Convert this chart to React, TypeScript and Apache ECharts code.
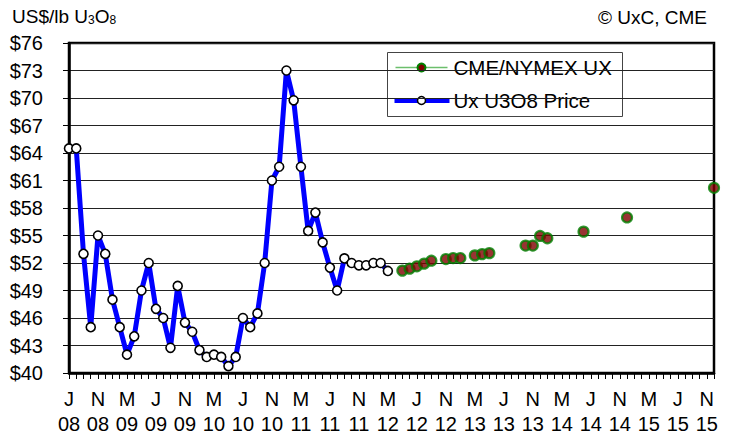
import React, { useEffect, useRef } from "react";
import * as echarts from "echarts";

// Month index 0 = Jul 2008
const monthLetters = ["J", "F", "M", "A", "M", "J", "J", "A", "S", "O", "N", "D"];
const startMonth = 6; // July
const startYear = 2008;
const xMax = 89; // Dec 2015
const labelStep = 4;

const uxIdx = [
  0, 1, 2, 3, 4, 5, 6, 7, 8, 9, 10, 11, 12, 13, 14, 15, 16, 17, 18, 19, 20, 21, 22,
  23, 24, 25, 26, 27, 28, 29, 30, 31, 32, 33, 34, 35, 36, 37, 38, 39, 40, 41, 42, 43, 44,
];
const uxPrice = [
  64.5, 64.5, 53, 45, 55, 53, 48, 45, 42, 44, 49, 52, 47, 46, 42.75, 49.5, 45.5, 44.5,
  42.5, 41.75, 42, 41.75, 40.75, 41.75, 46, 45, 46.5, 52, 61, 62.5, 73, 69.75, 62.5,
  55.5, 57.5, 54.25, 51.5, 49, 52.5, 52, 51.75, 51.75, 52, 52, 51.13,
];

const cmeIdx = [46, 47, 48, 49, 50, 52, 53, 54, 56, 57, 58, 63, 64, 65, 66, 71, 77, 89];
const cmePrice = [
  51.17, 51.38, 51.64, 51.93, 52.25, 52.43, 52.54, 52.54, 52.83, 52.97, 53.08, 53.9,
  53.9, 54.95, 54.7, 55.42, 56.97, 60.2,
];

const yMin = 40;
const yMax = 76;
const yStep = 3;

const FONT = "'Liberation Sans', Arial, sans-serif";

export default function App() {
  const ref = useRef<HTMLDivElement>(null);

  useEffect(() => {
    if (!ref.current) return;
    const chart = echarts.init(ref.current, undefined, { renderer: "svg" });

    const uxData = uxIdx.map((x, i) => [x, uxPrice[i]]);
    const cmeData = cmeIdx.map((x, i) => [x, cmePrice[i]]);

    chart.setOption({
      animation: false,
      backgroundColor: "#ffffff",
      textStyle: { fontFamily: FONT },
      grid: {
        left: 69,
        right: 19,
        top: 43,
        bottom: 60,
        show: true,
        borderColor: "#000",
        borderWidth: 2.5,
        backgroundColor: "transparent",
      },
      xAxis: {
        type: "value",
        min: 0,
        max: xMax,
        interval: 1,
        axisLine: { show: true, lineStyle: { color: "#000", width: 2.5 } },
        axisTick: { show: true, length: 6, lineStyle: { color: "#000", width: 1 } },
        splitLine: { show: false },
        axisLabel: {
          show: true,
          margin: 13,
          color: "#000",
          fontSize: 20,
          lineHeight: 25,
          fontFamily: FONT,
          showMinLabel: true,
          showMaxLabel: true,
          formatter: (v: number) => {
            const idx = Math.round(v);
            if (idx % labelStep !== 0) return "";
            const m = (startMonth + idx) % 12;
            const y = startYear + Math.floor((startMonth + idx) / 12);
            return monthLetters[m] + "\n" + String(y % 100).padStart(2, "0");
          },
        },
      },
      yAxis: {
        type: "value",
        min: yMin,
        max: yMax,
        interval: yStep,
        axisLine: { show: true, lineStyle: { color: "#000", width: 2.5 } },
        axisTick: { show: true, length: 6, lineStyle: { color: "#000", width: 1 } },
        splitLine: { show: true, lineStyle: { color: "#222", width: 1 } },
        axisLabel: {
          margin: 26,
          color: "#000",
          fontSize: 20,
          fontFamily: FONT,
          formatter: (v: number) => "$" + v,
        },
      },
      series: [
        {
          name: "Ux U3O8 Price",
          type: "line",
          data: uxData,
          lineStyle: { color: "#0000ff", width: 5 },
          symbol: "circle",
          symbolSize: 9,
          itemStyle: { color: "#ffffff", borderColor: "#000", borderWidth: 1.6 },
          clip: false,
          z: 3,
        },
        {
          name: "CME/NYMEX UX",
          type: "scatter",
          data: cmeData,
          symbol: "circle",
          symbolSize: 10,
          itemStyle: { color: "#800000", borderColor: "#008000", borderWidth: 2.2 },
          clip: false,
          z: 4,
        },
      ],
      graphic: [
        {
          type: "text",
          left: 12,
          top: 7,
          style: {
            text: "US$/lb U{s|3}O{s|8}",
            font: `19px ${FONT}`,
            fill: "#000",
            rich: {
              s: { fontSize: 12, fontFamily: FONT, fill: "#000", verticalAlign: "bottom", padding: [6, 0, 0, 0] },
            },
          },
        },
        {
          type: "text",
          right: 26,
          top: 8,
          style: { text: "© UxC, CME", font: `19px ${FONT}`, fill: "#000" },
        },
        {
          type: "group",
          left: 387,
          top: 52,
          children: [
            {
              type: "rect",
              shape: { x: 0, y: 0, width: 235, height: 64 },
              style: { fill: "#fff", stroke: "#444", lineWidth: 1 },
            },
            {
              type: "line",
              shape: { x1: 8, y1: 15, x2: 60, y2: 15 },
              style: { stroke: "#6cbf6c", lineWidth: 1.5 },
            },
            {
              type: "circle",
              shape: { cx: 34, cy: 15, r: 4 },
              style: { fill: "#800000", stroke: "#008000", lineWidth: 2 },
            },
            {
              type: "text",
              x: 66,
              y: 15,
              style: { text: "CME/NYMEX UX", font: `20.5px ${FONT}`, fill: "#000", verticalAlign: "middle" },
            },
            {
              type: "line",
              shape: { x1: 7, y1: 48, x2: 62, y2: 48 },
              style: { stroke: "#0000ff", lineWidth: 5 },
            },
            {
              type: "circle",
              shape: { cx: 34, cy: 48, r: 4 },
              style: { fill: "#fff", stroke: "#000", lineWidth: 1.5 },
            },
            {
              type: "text",
              x: 66,
              y: 48,
              style: { text: "Ux U3O8 Price", font: `20.5px ${FONT}`, fill: "#000", verticalAlign: "middle" },
            },
          ],
        },
      ],
    });

    return () => {
      chart.dispose();
    };
  }, []);

  return (
    <div
      ref={ref}
      style={{ position: "fixed", left: 0, top: 0, width: 733, height: 436, background: "#fff" }}
    />
  );
}
